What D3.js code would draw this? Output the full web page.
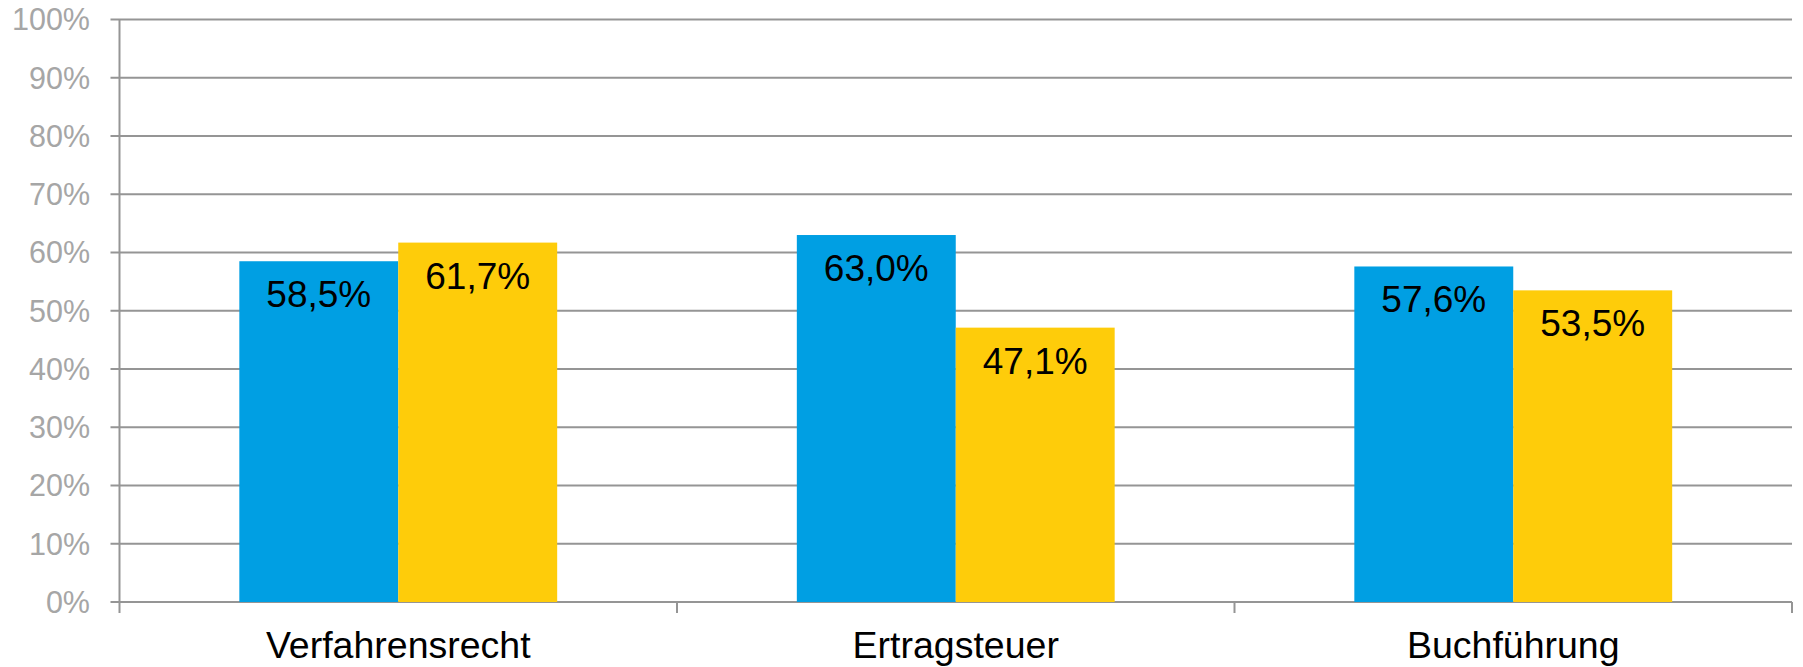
<!DOCTYPE html>
<html>
<head>
<meta charset="utf-8">
<script src="https://cdn.jsdelivr.net/npm/d3@7"></script>
<style>
  html, body { margin: 0; padding: 0; background: #fff; }
  svg { display: block; }
  text { font-family: "Liberation Sans", Arial, sans-serif; }
</style>
</head>
<body>
<svg id="chart" width="1803" height="667"></svg>
<script>
const categories = ["Verfahrensrecht", "Ertragsteuer", "Buchführung"];
const seriesNames = ["Serie 1", "Serie 2"];
const seriesA = [58.5, 63.0, 57.6];
const seriesB = [61.7, 47.1, 53.5];
const yTicks = [0, 10, 20, 30, 40, 50, 60, 70, 80, 90, 100];
const colors = ["#009fe3", "#fecc0a"];

const W = 1803, H = 667;
const m = { left: 119.5, right: 1792, top: 19.5, bottom: 602 };
const svg = d3.select("#chart");

const y = d3.scaleLinear().domain([0, 100]).range([m.bottom, m.top]);
const x0 = d3.scaleBand().domain(categories).range([m.left, m.right]).padding(0);
const x1 = d3.scaleBand().domain(seriesNames).range([0, x0.bandwidth()])
  .paddingInner(0).paddingOuter(0.754);

const fmt = v => d3.format(".1f")(v).replace(".", ",") + "%";
const gridColor = "#959595";

// gridlines
svg.append("g").selectAll("line").data(yTicks).join("line")
  .attr("x1", m.left - 9).attr("x2", m.right)
  .attr("y1", d => y(d)).attr("y2", d => y(d))
  .attr("stroke", gridColor).attr("stroke-width", 2);

// y tick labels
svg.append("g").selectAll("text").data(yTicks).join("text")
  .attr("x", 90).attr("y", d => y(d))
  .attr("dy", "0.36em")
  .attr("text-anchor", "end")
  .attr("font-size", 30.5)
  .attr("fill", "#a6a6a6")
  .text(d => d + "%");

// y axis line
svg.append("line")
  .attr("x1", m.left).attr("x2", m.left)
  .attr("y1", m.top).attr("y2", m.bottom + 11)
  .attr("stroke", gridColor).attr("stroke-width", 2);

// x ticks at category boundaries
const bounds = categories.map(c => x0(c)).concat([m.right]);
svg.append("g").selectAll("line").data(bounds.slice(1)).join("line")
  .attr("x1", d => d).attr("x2", d => d)
  .attr("y1", m.bottom).attr("y2", m.bottom + 11)
  .attr("stroke", gridColor).attr("stroke-width", 2);

// bars
const rows = categories.map((c, i) => ({ cat: c, vals: [seriesA[i], seriesB[i]] }));
const groups = svg.append("g").selectAll("g").data(rows).join("g")
  .attr("transform", d => `translate(${x0(d.cat)},0)`);

groups.selectAll("rect").data(d => d.vals.map((v, j) => ({ v, s: seriesNames[j], j })))
  .join("rect")
  .attr("x", d => x1(d.s))
  .attr("width", x1.bandwidth())
  .attr("y", d => y(d.v))
  .attr("height", d => y(0) - y(d.v))
  .attr("fill", d => colors[d.j]);

groups.selectAll("text").data(d => d.vals.map((v, j) => ({ v, s: seriesNames[j], j })))
  .join("text")
  .attr("x", d => x1(d.s) + x1.bandwidth() / 2)
  .attr("y", d => y(d.v) + 46)
  .attr("text-anchor", "middle")
  .attr("font-size", 37)
  .attr("fill", "#000")
  .text(d => fmt(d.v));

// category labels
svg.append("g").selectAll("text").data(categories).join("text")
  .attr("x", d => x0(d) + x0.bandwidth() / 2)
  .attr("y", 658)
  .attr("text-anchor", "middle")
  .attr("font-size", 37.5)
  .attr("fill", "#000")
  .text(d => d);
</script>
</body>
</html>
